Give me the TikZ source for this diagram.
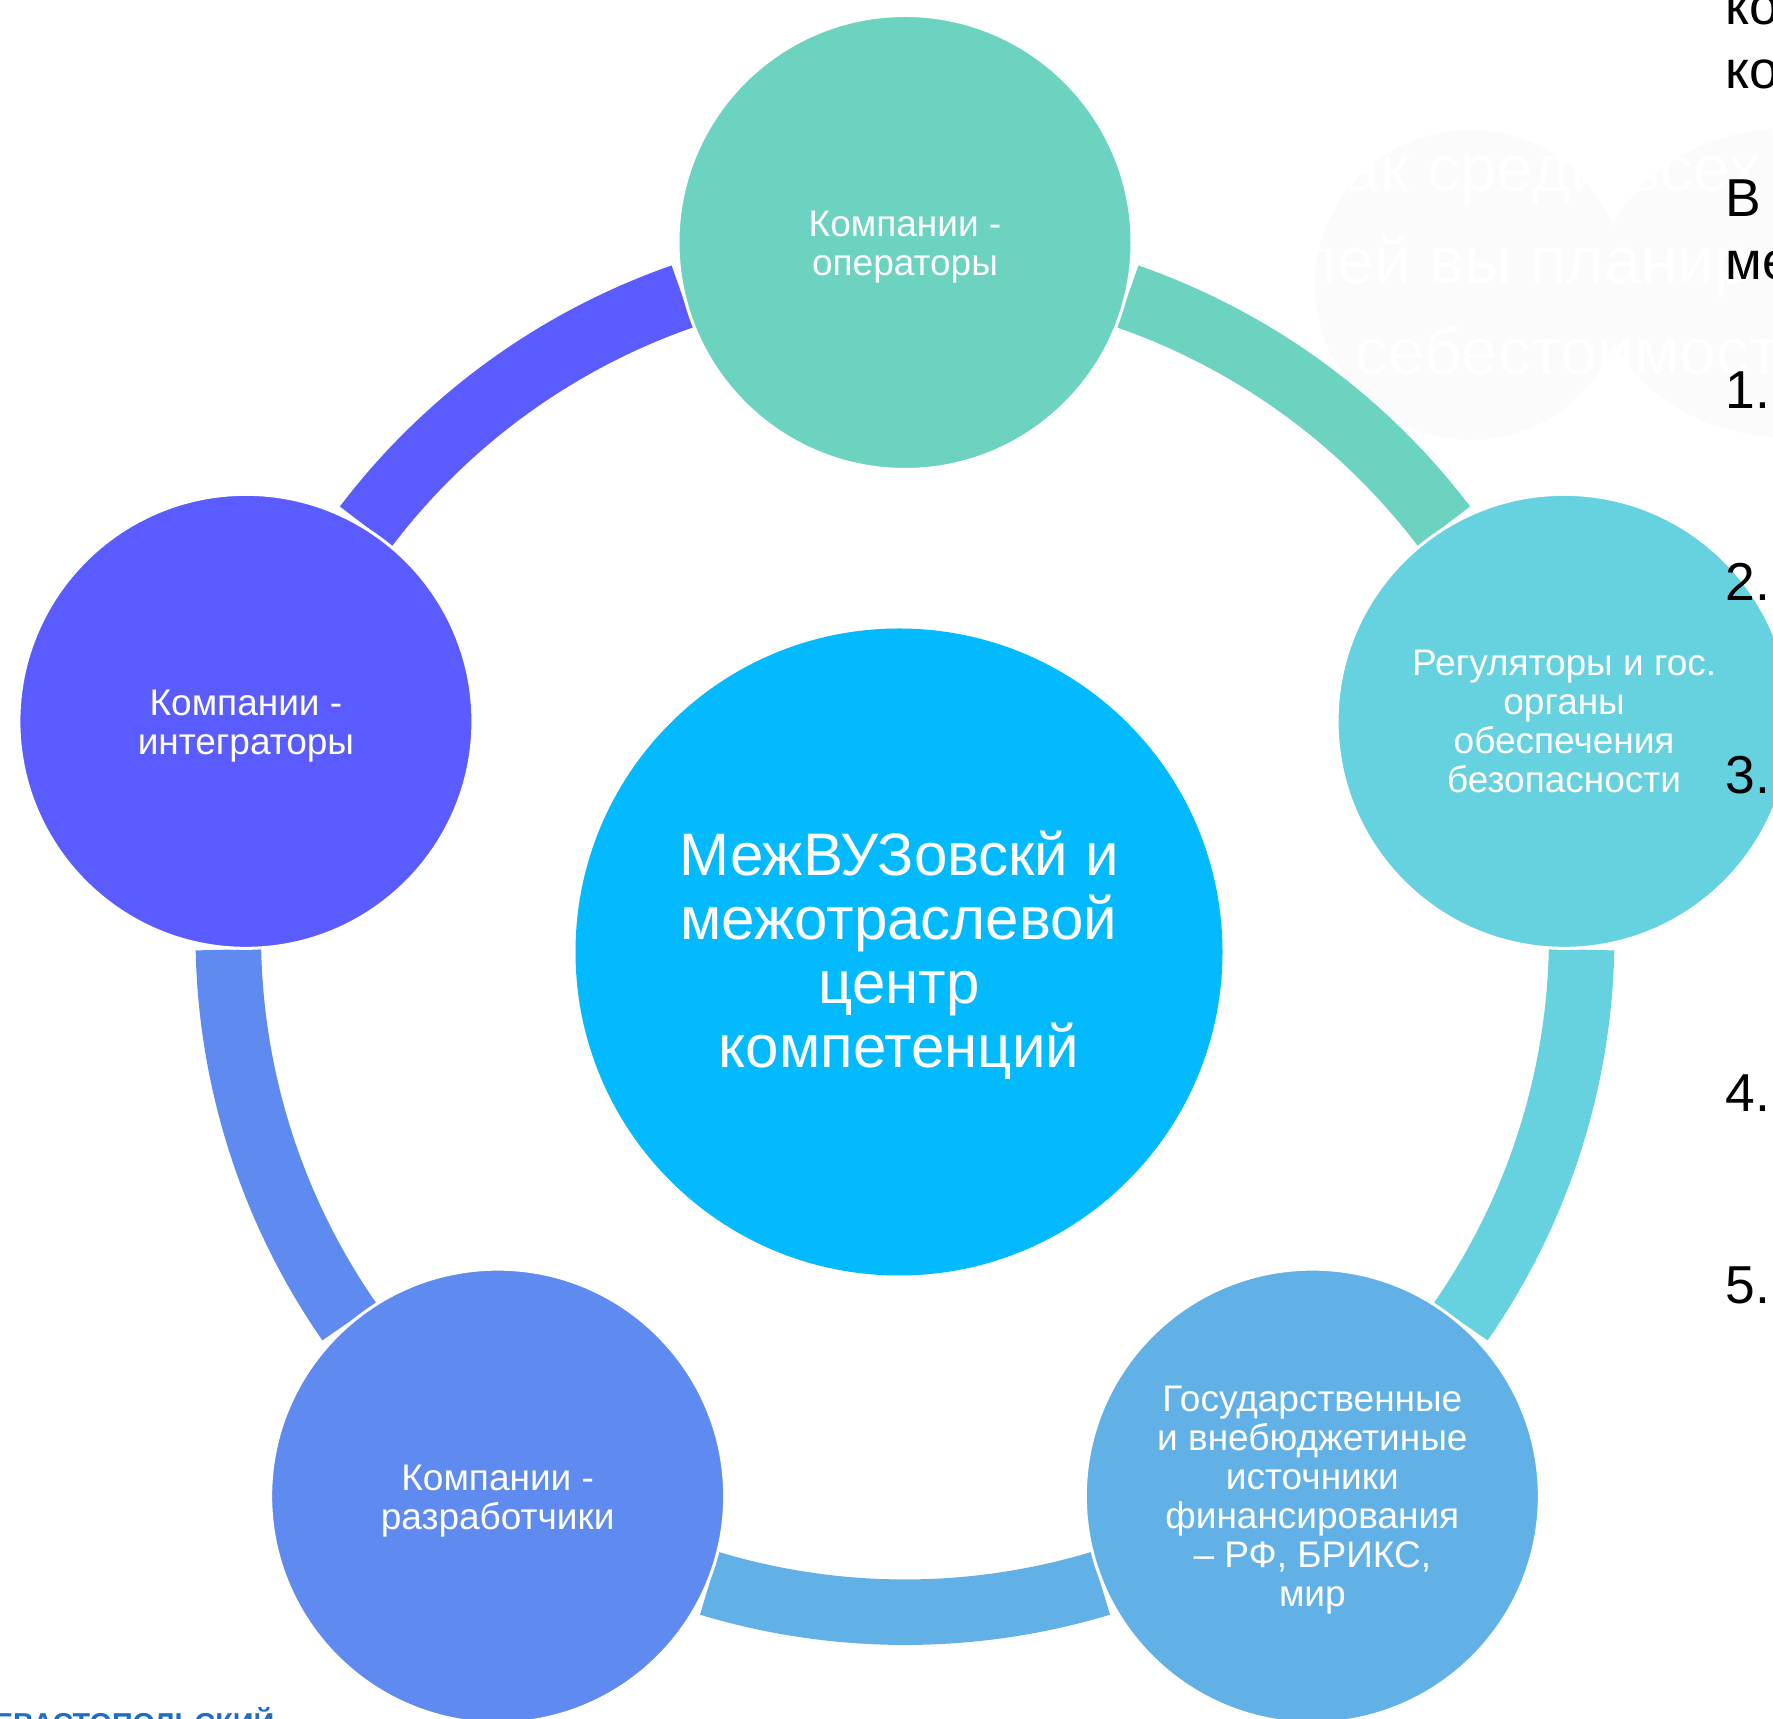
\documentclass[tikz,border=0pt]{standalone}
\usepackage{fontspec}
\setmainfont{Liberation Sans}
\definecolor{cTeal}{HTML}{6DD3C1}
\definecolor{cCyan}{HTML}{66D1DF}
\definecolor{cSky}{HTML}{62B1E6}
\definecolor{cBlue}{HTML}{5F8AF0}
\definecolor{cViolet}{HTML}{5B5CFF}
\definecolor{hubblue}{HTML}{04BAFE}
\definecolor{blobgray}{HTML}{FBFBFB}
\definecolor{uniblue}{HTML}{1E6EC8}
% one coloured band of the ring, between two angles (degrees)
\newcommand\ringband[3]{%
  \draw[band,#1] ([shift={(#2:676.75)}]ring) arc[start angle=#2, end angle=#3, radius=676.75];}
% invisible strut that sets the height of a first text line
\newcommand\capstrut[1]{\rule{0pt}{#1}}
\begin{document}
\begin{tikzpicture}[x=0.5pt,y=0.5pt,
  member/.style={circle, draw=white, line width=1.5pt, minimum size=227pt,
    inner sep=0pt, text=white, align=center,
    font=\fontsize{18.5}{19.5}\selectfont},
  hub/.style={circle, fill=hubblue, minimum size=323.5pt, inner sep=0pt,
    text=white, align=center, font=\fontsize{30}{32}\selectfont},
  band/.style={line width=32.75pt},
  sidetext/.style={anchor=base west, inner sep=0pt,
    font=\fontsize{26.7}{32}\selectfont, text=black},
  ghost/.style={anchor=base west, inner sep=0pt,
    font=\fontsize{33}{40}\selectfont, text=white},
]
\useasboundingbox (0,0) rectangle (1773,1719);
\clip (0,0) rectangle (1773,1719);
\fill[white] (0,0) rectangle (1773,1719);

% faded backdrop with washed-out text
\fill[blobgray] (1470,1434) circle[radius=155];
\fill[blobgray] (1790,1436) ellipse[x radius=190, y radius=155];
\node[ghost] (g1) at (1343,1527.3) {ак среди всех};
\node[ghost] (g2) at (1298.5,1435.7) {лей вы планир};
\node[ghost] (g3) at (1355,1344) {себестоимост};

% ring of bands, each in the colour of the node it leaves
\coordinate (ring) at (905,783.5);
\ringband{cTeal}{70.8}{37.2}
\ringband{cCyan}{-1.2}{-34.8}
\ringband{cSky}{-73.2}{-106.8}
\ringband{cBlue}{-145.2}{-178.8}
\ringband{cViolet}{142.8}{109.2}

% members of the cycle
\node[member, fill=cTeal] (ops) at ([shift={(90:693)}]ring)
  {\capstrut{17.8pt}Компании -\\операторы};
\node[member, fill=cCyan] (reg) at ([shift={(18:693)}]ring)
  {Регуляторы и гос.\\органы\\обеспечения\\безопасности};
\node[member, fill=cSky] (fin) at ([shift={(-54:693)}]ring)
  {\capstrut{16.6pt}Государственные\\и внебюджетиные\\источники\\финансирования\\– РФ, БРИКС,\\мир};
\node[member, fill=cBlue] (dev) at ([shift={(-126:693)}]ring)
  {\capstrut{17.9pt}Компании -\\разработчики};
\node[member, fill=cViolet] (int) at ([shift={(162:693)}]ring)
  {\capstrut{17.9pt}Компании -\\интеграторы};

% central hub
\node[hub] (hub) at (899,767)
  {\capstrut{25pt}МежВУЗовскй и\\межотраслевой\\центр\\компетенций};

% text running in from the right
\node[sidetext] (t1) at (1725,1694) {ко};
\node[sidetext] (t2) at (1725,1630.7) {ко};
\node[sidetext] (t3) at (1725,1502.3) {В};
\node[sidetext] (t4) at (1725,1439) {ме};
\node[sidetext] (n1) at (1725,1310.7) {1.};
\node[sidetext] (n2) at (1725,1118.7) {2.};
\node[sidetext] (n3) at (1725,925.7) {3.};
\node[sidetext] (n4) at (1725,607.6) {4.};
\node[sidetext] (n5) at (1725,415.2) {5.};

% logo caption at the lower edge
\node[anchor=base west, inner sep=0pt, text=uniblue,
  font=\bfseries\fontsize{14.4}{16}\selectfont] (uni) at (-6.4,-14.6) {ЕВАСТОПОЛЬСКИЙ};
\end{tikzpicture}
\end{document}
